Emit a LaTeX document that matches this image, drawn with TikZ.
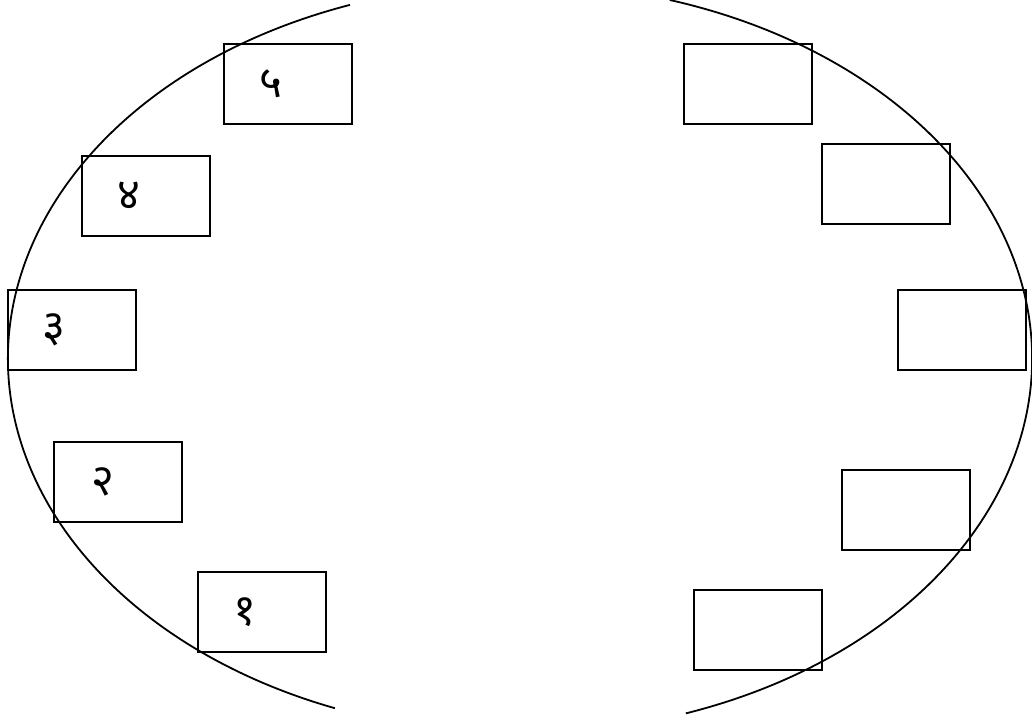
\documentclass[tikz,border=0pt]{standalone}
\usepackage{fontspec}
\newfontfamily\deva[Script=Devanagari]{Noto Sans}
\begin{document}
\begin{tikzpicture}[x=1pt,y=1pt,
  box/.style={draw,line width=2pt,minimum width=128pt,minimum height=80pt,inner sep=0pt},
  num/.style={font=\deva\fontsize{44}{48}\selectfont,inner sep=0pt},
  arcline/.style={line width=1.8pt}]
\useasboundingbox (0,0) rectangle (1032,720);
\coordinate (c) at (520,361.4);
\draw[arcline] (c) ++(109.4:512 and 375) arc[start angle=109.4,end angle=248.8,x radius=512,y radius=375];
\draw[arcline] (c) ++(-71.1:512 and 375) arc[start angle=-71.1,end angle=73,x radius=512,y radius=375];
\node[box] (b5) at (288,636) {};
\node[box] (b4) at (146,524) {};
\node[box] (b3) at (72,390) {};
\node[box] (b2) at (118,238) {};
\node[box] (b1) at (262,108) {};
\node[num] (n5) at ([xshift=48pt]b5.west) {५};
\node[num] (n4) at ([xshift=48pt]b4.west) {४};
\node[num] (n3) at ([xshift=47pt]b3.west) {३};
\node[num] (n2) at ([xshift=50pt]b2.west) {२};
\node[num] (n1) at ([xshift=48pt]b1.west) {१};
\node[box] (r1) at (748,636) {};
\node[box] (r2) at (886,536) {};
\node[box] (r3) at (962,390) {};
\node[box] (r4) at (906,210) {};
\node[box] (r5) at (758,90) {};
\end{tikzpicture}
\end{document}
